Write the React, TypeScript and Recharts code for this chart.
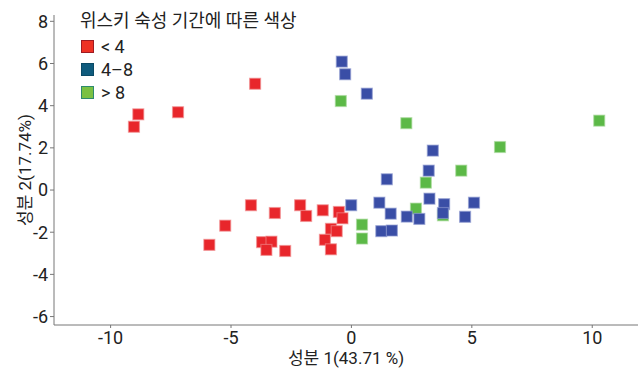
import { ScatterChart, Scatter, XAxis, YAxis } from "recharts";

type Pt = { x: number; y: number };

const under4: Pt[] = [
  { x: -9.03, y: 3.0 },
  { x: -8.85, y: 3.59 },
  { x: -7.2, y: 3.69 },
  { x: -4.0, y: 5.04 },
  { x: -4.17, y: -0.72 },
  { x: -3.18, y: -1.09 },
  { x: -2.13, y: -0.72 },
  { x: -1.88, y: -1.23 },
  { x: -1.19, y: -0.96 },
  { x: -0.52, y: -1.04 },
  { x: -0.37, y: -1.34 },
  { x: -5.24, y: -1.69 },
  { x: -5.9, y: -2.6 },
  { x: -3.71, y: -2.47 },
  { x: -3.32, y: -2.45 },
  { x: -3.53, y: -2.84 },
  { x: -2.75, y: -2.89 },
  { x: -0.85, y: -1.84 },
  { x: -0.61, y: -1.95 },
  { x: -1.1, y: -2.36 },
  { x: -0.85, y: -2.81 },
];

const from4to8: Pt[] = [
  { x: -0.4, y: 6.09 },
  { x: -0.26, y: 5.49 },
  { x: 0.64, y: 4.57 },
  { x: 3.38, y: 1.87 },
  { x: 3.21, y: 0.92 },
  { x: 1.47, y: 0.51 },
  { x: -0.01, y: -0.72 },
  { x: 1.16, y: -0.6 },
  { x: 3.24, y: -0.41 },
  { x: 3.85, y: -0.67 },
  { x: 5.09, y: -0.6 },
  { x: 1.63, y: -1.12 },
  { x: 2.3, y: -1.26 },
  { x: 2.82, y: -1.37 },
  { x: 3.8, y: -1.09 },
  { x: 4.72, y: -1.27 },
  { x: 1.24, y: -1.95 },
  { x: 1.68, y: -1.92 },
];

const over8: Pt[] = [
  { x: -0.44, y: 4.22 },
  { x: 2.28, y: 3.17 },
  { x: 10.29, y: 3.29 },
  { x: 6.17, y: 2.04 },
  { x: 4.56, y: 0.92 },
  { x: 3.09, y: 0.35 },
  { x: 2.68, y: -0.88 },
  { x: 0.44, y: -1.64 },
  { x: 0.44, y: -2.3 },
  { x: 3.8, y: -1.2 },
];

const xTicks = [-10, -5, 0, 5, 10];
const yTicks = [-6, -4, -2, 0, 2, 4, 6, 8];

const legendItems = [
  { label: "< 4", fill: "#ee3124", stroke: "#9e1b22" },
  { label: "4–8", fill: "#0f5b7d", stroke: "#0b4a66" },
  { label: "> 8", fill: "#7ac143", stroke: "#2e8a6e" },
];

const FONT = "Roboto, 'Noto Sans CJK KR', sans-serif";
const TICK = { fill: "#222", fontSize: 18, fontFamily: FONT };

function square(fill: string, halo: string) {
  return (props: any) => {
    const { cx, cy } = props;
    return (
      <rect
        x={cx - 5.5}
        y={cy - 5.5}
        width={11}
        height={11}
        fill={fill}
        stroke={halo}
        strokeWidth={1.2}
        strokeOpacity={0.6}
      />
    );
  };
}

function YTitle(props: any) {
  const vb = props.viewBox;
  const cy = vb.y + vb.height / 2;
  return (
    <text
      x={25}
      y={cy}
      transform={`rotate(-90 25 ${cy})`}
      textAnchor="middle"
      dominantBaseline="central"
      fill="#222"
      fontSize={17}
      fontFamily={FONT}
    >
      성분 2(17.74%)
    </text>
  );
}

function XTitle(props: any) {
  const vb = props.viewBox;
  return (
    <text
      x={vb.x + vb.width / 2}
      y={358}
      textAnchor="middle"
      dominantBaseline="central"
      fill="#222"
      fontSize={17}
      fontFamily={FONT}
    >
      성분 1(43.71 %)
    </text>
  );
}

function LegendBox() {
  return (
    <div
      style={{
        position: "absolute",
        left: 80,
        top: 9,
        fontFamily: FONT,
        color: "#222",
      }}
    >
      <div style={{ fontSize: 18, lineHeight: "24px", marginBottom: 2 }}>
        위스키 숙성 기간에 따른 색상
      </div>
      {legendItems.map((it) => (
        <div
          key={it.label}
          style={{ display: "flex", alignItems: "center", height: 23 }}
        >
          <span
            style={{
              width: 11,
              height: 11,
              background: it.fill,
              border: `1px solid ${it.stroke}`,
              marginLeft: 1,
              marginRight: 7,
            }}
          />
          <span style={{ fontSize: 18 }}>{it.label}</span>
        </div>
      ))}
    </div>
  );
}

export default function App() {
  return (
    <div
      style={{
        position: "fixed",
        left: 0,
        top: 0,
        width: 644,
        height: 375,
        background: "#fff",
      }}
    >
      <ScatterChart
        width={644}
        height={375}
        margin={{ top: 15, right: 6, bottom: 0, left: 0 }}
      >
        <XAxis
          type="number"
          dataKey="x"
          domain={[-12.35, 11.9]}
          ticks={xTicks}
          tick={TICK}
          tickSize={3}
          tickMargin={3}
          stroke="#777"
          height={50}
          allowDataOverflow
          label={<XTitle />}
        />
        <YAxis
          type="number"
          dataKey="y"
          domain={[-6.4, 8.3]}
          ticks={yTicks}
          tick={TICK}
          tickSize={4}
          tickMargin={2}
          stroke="#777"
          width={54}
          allowDataOverflow
          label={<YTitle />}
        />
        <Scatter
          name="< 4"
          data={under4}
          shape={square("#e8262b", "#f08a8c")}
          isAnimationActive={false}
        />
        <Scatter
          name="> 8"
          data={over8}
          shape={square("#5cb947", "#a6d99a")}
          isAnimationActive={false}
        />
        <Scatter
          name="4–8"
          data={from4to8}
          shape={square("#3a4ea6", "#8f9bd0")}
          isAnimationActive={false}
        />
      </ScatterChart>
      <LegendBox />
    </div>
  );
}
